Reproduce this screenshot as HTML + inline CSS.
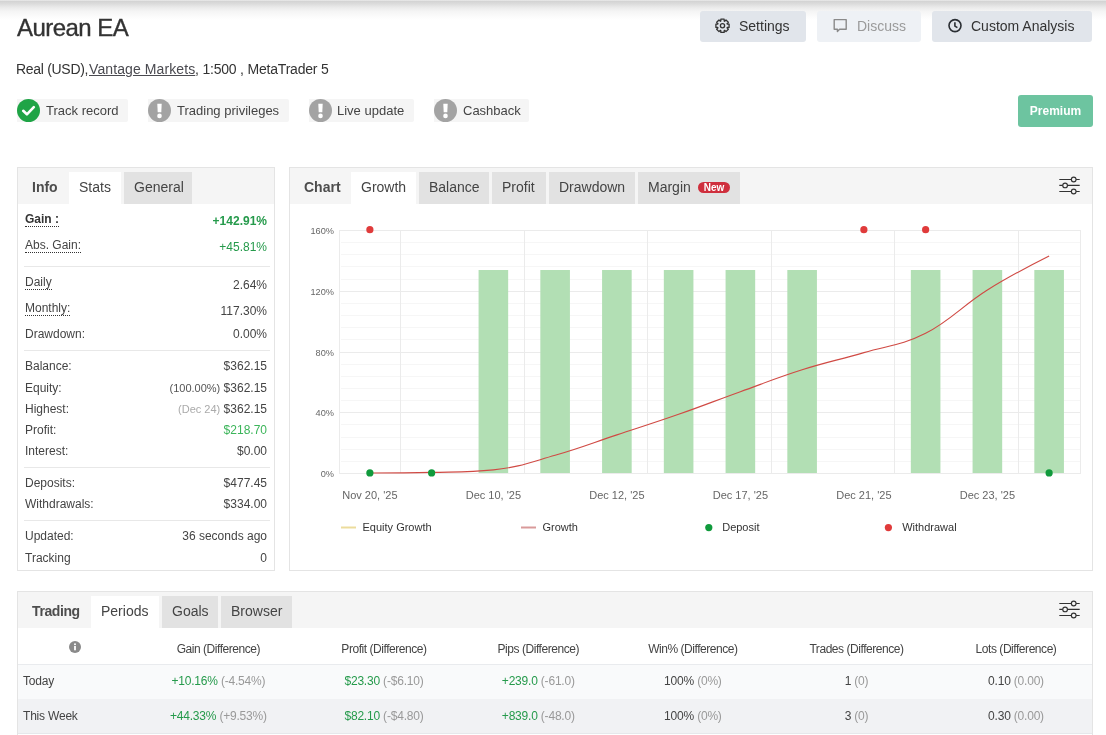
<!DOCTYPE html>
<html><head><meta charset="utf-8">
<style>
*{box-sizing:border-box;margin:0;padding:0}
html,body{width:1106px;height:735px;overflow:hidden;background:#fff}
body{font-family:"Liberation Sans",Arial,sans-serif;color:#333;position:relative}
.topshadow{position:absolute;left:0;top:0;width:1106px;height:20px;background:linear-gradient(#ededed 0px,#d4d4d4 1.5px,#dcdcdc 4px,#e9e9e9 7px,#f4f4f4 11px,#fbfbfb 16px,#fff 20px)}
.t{position:absolute;white-space:nowrap}
h1{position:absolute;left:17px;top:16px;-webkit-text-stroke:0.35px #333;font-size:24px;line-height:24px;font-weight:normal;color:#333;letter-spacing:-0.55px}
.btn{position:absolute;top:11px;height:31px;border-radius:3px;background:#e1e5eb}
.btxt{position:absolute;top:19px;font-size:14px;line-height:14px;color:#333;white-space:nowrap}
.sub{position:absolute;left:16px;top:62px;font-size:14px;line-height:14px;color:#333;letter-spacing:-0.16px;white-space:nowrap}
.sub u{text-decoration:underline;text-underline-offset:1px;color:#4a4a50}
.badge{position:absolute;top:99px;height:23px;background:#f5f5f5;border-radius:0 2px 2px 0}
.btx{position:absolute;top:104px;font-size:13px;line-height:13px;color:#444;white-space:nowrap}
.premium{position:absolute;left:1018px;top:95px;width:75px;height:32px;background:#6dc4a0;border-radius:3px;color:#fff;font-weight:bold;font-size:12px;text-align:center;line-height:32px}
.panel{position:absolute;border:1px solid #e4e4e4;background:#fff}
.tabbar{position:absolute;background:#f5f5f5}
.tab{position:absolute;height:32px;font-size:14px;line-height:14px;color:#444;white-space:nowrap}
.tab.w{background:#fff}
.tab.g{background:#e2e2e2}
.tab span{position:absolute;top:8px}
.lbl{position:absolute;font-size:12px;line-height:12px;color:#444;white-space:nowrap}
.val{position:absolute;font-size:12px;line-height:12px;color:#444;white-space:nowrap;text-align:right;right:839px}
.dt{border-bottom:1px dotted #333}
.dot{background-image:linear-gradient(90deg,#333 50%,transparent 50%);background-size:2px 1px;background-repeat:repeat-x;background-position:0 15px;padding-bottom:4px}
.sep{position:absolute;height:1px;background:#e8e8e8}
.green{color:#259a4b}
.th{position:absolute;font-size:12px;line-height:12px;color:#444;white-space:nowrap;letter-spacing:-0.45px}
.td{position:absolute;font-size:12px;line-height:12px;color:#444;white-space:nowrap;letter-spacing:-0.2px}
.td .gr{color:#999}
</style></head><body>
<div class="topshadow"></div>
<h1>Aurean EA</h1>

<!-- header buttons -->
<div class="btn" style="left:700px;width:106px"></div>
<svg style="position:absolute;left:714px;top:17px" width="17" height="18" viewBox="0 -0.3 17 18">
  <path d="M6.85 1.90 L10.15 1.90 L10.21 3.80 L10.61 3.97 L12.00 2.67 L14.33 5.00 L13.03 6.39 L13.20 6.79 L15.10 6.85 L15.10 10.15 L13.20 10.21 L13.03 10.61 L14.33 12.00 L12.00 14.33 L10.61 13.03 L10.21 13.20 L10.15 15.10 L6.85 15.10 L6.79 13.20 L6.39 13.03 L5.00 14.33 L2.67 12.00 L3.97 10.61 L3.80 10.21 L1.90 10.15 L1.90 6.85 L3.80 6.79 L3.97 6.39 L2.67 5.00 L5.00 2.67 L6.39 3.97 L6.79 3.80 Z" fill="none" stroke="#333" stroke-width="1.3" stroke-linejoin="round"/>
  <circle cx="8.5" cy="8.5" r="2.1" fill="none" stroke="#333" stroke-width="1.3"/>
</svg>
<div class="btxt" style="left:739px">Settings</div>

<div class="btn" style="left:817px;width:104px;background:#eef1f5"></div>
<svg style="position:absolute;left:832px;top:18px" width="16" height="15" viewBox="0 0 16 15">
  <path d="M2.2 1.6 H14.2 V11.2 H7.6 L5.4 13.4 V11.2 H2.2 Z" fill="none" stroke="#8a8a8a" stroke-width="1.4" stroke-linejoin="round"/>
</svg>
<div class="btxt" style="left:857px;color:#9a9a9a">Discuss</div>

<div class="btn" style="left:932px;width:160px"></div>
<svg style="position:absolute;left:947px;top:18px" width="16" height="16" viewBox="0 0 16 16">
  <circle cx="8" cy="7.6" r="6" fill="none" stroke="#2a2e33" stroke-width="1.6"/>
  <path d="M7.9 4.2 V8.1 L10.4 9.6" fill="none" stroke="#2a2e33" stroke-width="1.6" stroke-linejoin="round"/>
</svg>
<div class="btxt" style="left:971px">Custom Analysis</div>

<div class="sub" style="left:16px;letter-spacing:-0.3px">Real (USD),</div><div class="sub" style="left:89px;letter-spacing:0.1px"><u>Vantage Markets</u></div><div class="sub" style="left:195px;letter-spacing:-0.2px">, 1:500 , MetaTrader 5</div>

<!-- badges -->
<div class="badge" style="left:17px;width:111px"></div>
<svg style="position:absolute;left:17px;top:99px" width="23" height="23" viewBox="0 0 23 23">
  <circle cx="11.5" cy="11.5" r="11.5" fill="#1fa446"/>
  <path d="M6.2 11.8 L9.9 15.3 L16.8 8.2" fill="none" stroke="#fff" stroke-width="2.6" stroke-linecap="round" stroke-linejoin="round"/>
</svg>
<div class="btx" style="left:46px">Track record</div>

<div class="badge" style="left:148px;width:141px"></div>
<svg style="position:absolute;left:148px;top:99px" width="23" height="23" viewBox="0 0 23 23">
  <circle cx="11.5" cy="11.5" r="11.5" fill="#a3a3a3"/>
  <path d="M9.3 4.8 H13.7 L13.3 13.3 H9.7 Z" fill="#fff"/>
  <circle cx="11.5" cy="16.9" r="2.3" fill="#fff"/>
</svg>
<div class="btx" style="left:177px">Trading privileges</div>

<div class="badge" style="left:309px;width:105px"></div>
<svg style="position:absolute;left:309px;top:99px" width="23" height="23" viewBox="0 0 23 23">
  <circle cx="11.5" cy="11.5" r="11.5" fill="#a3a3a3"/>
  <path d="M9.3 4.8 H13.7 L13.3 13.3 H9.7 Z" fill="#fff"/>
  <circle cx="11.5" cy="16.9" r="2.3" fill="#fff"/>
</svg>
<div class="btx" style="left:337px">Live update</div>

<div class="badge" style="left:434px;width:95px"></div>
<svg style="position:absolute;left:434px;top:99px" width="23" height="23" viewBox="0 0 23 23">
  <circle cx="11.5" cy="11.5" r="11.5" fill="#a3a3a3"/>
  <path d="M9.3 4.8 H13.7 L13.3 13.3 H9.7 Z" fill="#fff"/>
  <circle cx="11.5" cy="16.9" r="2.3" fill="#fff"/>
</svg>
<div class="btx" style="left:463px">Cashback</div>

<div class="premium">Premium</div>

<!-- LEFT PANEL -->
<div class="panel" style="left:17px;top:167px;width:258px;height:404px"></div>
<div class="tabbar" style="left:18px;top:168px;width:256px;height:36px"></div>
<div class="tab" style="left:18px;top:168px;width:51px;height:36px"><span style="left:14px;top:12px;color:#4d4d4d;font-weight:bold">Info</span></div>
<div class="tab w" style="left:69px;top:172px;width:52px"><span style="left:10px">Stats</span></div>
<div class="tab g" style="left:124px;top:172px;width:68px"><span style="left:10px">General</span></div>

<div id="leftrows">
<div class="lbl" style="left:25px;top:213px;font-weight:bold;color:#333"><span class="dt">Gain :</span></div>
<div class="lbl" style="left:25px;top:239px"><span class="dt">Abs. Gain:</span></div>
<div class="lbl" style="left:25px;top:276px"><span class="dt">Daily</span></div>
<div class="lbl" style="left:25px;top:302px"><span class="dt">Monthly:</span></div>
<div class="lbl" style="left:25px;top:328px">Drawdown:</div>
<div class="lbl" style="left:25px;top:360px">Balance:</div>
<div class="lbl" style="left:25px;top:382px">Equity:</div>
<div class="lbl" style="left:25px;top:403px">Highest:</div>
<div class="lbl" style="left:25px;top:424px">Profit:</div>
<div class="lbl" style="left:25px;top:445px">Interest:</div>
<div class="lbl" style="left:25px;top:477px">Deposits:</div>
<div class="lbl" style="left:25px;top:498px">Withdrawals:</div>
<div class="lbl" style="left:25px;top:530px">Updated:</div>
<div class="lbl" style="left:25px;top:552px">Tracking</div>
<div class="val" style="top:215px"><b class="green">+142.91%</b></div>
<div class="val" style="top:241px"><span class="green">+45.81%</span></div>
<div class="val" style="top:279px">2.64%</div>
<div class="val" style="top:305px">117.30%</div>
<div class="val" style="top:328px">0.00%</div>
<div class="val" style="top:360px">$362.15</div>
<div class="val" style="top:382px"><small style="font-size:11px;color:#555">(100.00%)</small> $362.15</div>
<div class="val" style="top:403px"><small style="font-size:11px;color:#aaa">(Dec 24)</small> $362.15</div>
<div class="val" style="top:424px"><span style="color:#3cb55a">$218.70</span></div>
<div class="val" style="top:445px">$0.00</div>
<div class="val" style="top:477px">$477.45</div>
<div class="val" style="top:498px">$334.00</div>
<div class="val" style="top:530px">36 seconds ago</div>
<div class="val" style="top:552px">0</div>
<div class="sep" style="left:24px;top:266px;width:246px"></div>
<div class="sep" style="left:24px;top:350px;width:246px"></div>
<div class="sep" style="left:24px;top:467px;width:246px"></div>
<div class="sep" style="left:24px;top:520px;width:246px"></div>
</div><!--/leftrows-->

<!-- CHART PANEL -->
<div class="panel" style="left:289px;top:167px;width:804px;height:404px"></div>
<div class="tabbar" style="left:290px;top:168px;width:802px;height:36px"></div>
<div class="tab" style="left:290px;top:168px;width:61px;height:36px"><span style="left:14px;top:12px;color:#4d4d4d;font-weight:bold">Chart</span></div>
<div class="tab w" style="left:351px;top:172px;width:65px"><span style="left:10px">Growth</span></div>
<div class="tab g" style="left:419px;top:172px;width:70px"><span style="left:10px">Balance</span></div>
<div class="tab g" style="left:492px;top:172px;width:54px"><span style="left:10px">Profit</span></div>
<div class="tab g" style="left:549px;top:172px;width:86px"><span style="left:10px">Drawdown</span></div>
<div class="tab g" style="left:638px;top:172px;width:102px"><span style="left:10px">Margin</span>
  <span style="left:60px;top:10px;width:32px;height:11px;border-radius:6px;background:#cf2f3d;color:#fff;font-weight:bold;font-size:10px;line-height:11px;text-align:center">New</span></div>
<svg style="position:absolute;left:1058px;top:175px" width="24" height="20" viewBox="0 0 24 20">
  <g fill="none" stroke="#333" stroke-width="1.15">
    <path d="M1.3 4.5 H13.35 M18.05 4.5 H21.7"/>
    <circle cx="15.7" cy="4.5" r="2.35"/>
    <path d="M1.3 10.4 H4.75 M9.45 10.4 H21.7"/>
    <circle cx="7.1" cy="10.4" r="2.35"/>
    <path d="M1.3 16.5 H13.35 M18.05 16.5 H21.7"/>
    <circle cx="15.7" cy="16.5" r="2.35"/>
  </g>
</svg>

<div id="chart">
<svg style="position:absolute;left:290px;top:205px" width="802" height="365" viewBox="290 205 802 365" font-family="Liberation Sans, Arial, sans-serif">
<line x1="341" x2="1080" y1="461.5" y2="461.5" stroke="#f6f6f6" stroke-width="1"/>
<line x1="341" x2="1080" y1="449.5" y2="449.5" stroke="#f6f6f6" stroke-width="1"/>
<line x1="341" x2="1080" y1="437.5" y2="437.5" stroke="#f6f6f6" stroke-width="1"/>
<line x1="341" x2="1080" y1="424.5" y2="424.5" stroke="#f6f6f6" stroke-width="1"/>
<line x1="341" x2="1080" y1="400.5" y2="400.5" stroke="#f6f6f6" stroke-width="1"/>
<line x1="341" x2="1080" y1="388.5" y2="388.5" stroke="#f6f6f6" stroke-width="1"/>
<line x1="341" x2="1080" y1="376.5" y2="376.5" stroke="#f6f6f6" stroke-width="1"/>
<line x1="341" x2="1080" y1="364.5" y2="364.5" stroke="#f6f6f6" stroke-width="1"/>
<line x1="341" x2="1080" y1="339.5" y2="339.5" stroke="#f6f6f6" stroke-width="1"/>
<line x1="341" x2="1080" y1="327.5" y2="327.5" stroke="#f6f6f6" stroke-width="1"/>
<line x1="341" x2="1080" y1="315.5" y2="315.5" stroke="#f6f6f6" stroke-width="1"/>
<line x1="341" x2="1080" y1="303.5" y2="303.5" stroke="#f6f6f6" stroke-width="1"/>
<line x1="341" x2="1080" y1="279.5" y2="279.5" stroke="#f6f6f6" stroke-width="1"/>
<line x1="341" x2="1080" y1="266.5" y2="266.5" stroke="#f6f6f6" stroke-width="1"/>
<line x1="341" x2="1080" y1="254.5" y2="254.5" stroke="#f6f6f6" stroke-width="1"/>
<line x1="341" x2="1080" y1="242.5" y2="242.5" stroke="#f6f6f6" stroke-width="1"/>
<line x1="400.5" x2="400.5" y1="231" y2="473" stroke="#ebebeb" stroke-width="1"/>
<line x1="524.5" x2="524.5" y1="231" y2="473" stroke="#ebebeb" stroke-width="1"/>
<line x1="647.5" x2="647.5" y1="231" y2="473" stroke="#ebebeb" stroke-width="1"/>
<line x1="771.5" x2="771.5" y1="231" y2="473" stroke="#ebebeb" stroke-width="1"/>
<line x1="894.5" x2="894.5" y1="231" y2="473" stroke="#ebebeb" stroke-width="1"/>
<line x1="1018.5" x2="1018.5" y1="231" y2="473" stroke="#ebebeb" stroke-width="1"/>
<line x1="339.5" x2="339.5" y1="230" y2="474" stroke="#ebebeb"/>
<line x1="1080.5" x2="1080.5" y1="230" y2="474" stroke="#ebebeb"/>
<line x1="339" x2="1081" y1="230.5" y2="230.5" stroke="#ebebeb" stroke-width="1"/>
<line x1="339" x2="1081" y1="291.5" y2="291.5" stroke="#ebebeb" stroke-width="1"/>
<line x1="339" x2="1081" y1="352.5" y2="352.5" stroke="#ebebeb" stroke-width="1"/>
<line x1="339" x2="1081" y1="412.5" y2="412.5" stroke="#ebebeb" stroke-width="1"/>
<line x1="339" x2="1081" y1="473.5" y2="473.5" stroke="#ebebeb" stroke-width="1"/>
<rect x="478.57" y="270" width="29.6" height="203" fill="#b2dfb4"/>
<rect x="540.33" y="270" width="29.6" height="203" fill="#b2dfb4"/>
<rect x="602.08" y="270" width="29.6" height="203" fill="#b2dfb4"/>
<rect x="663.83" y="270" width="29.6" height="203" fill="#b2dfb4"/>
<rect x="725.58" y="270" width="29.6" height="203" fill="#b2dfb4"/>
<rect x="787.33" y="270" width="29.6" height="203" fill="#b2dfb4"/>
<rect x="910.83" y="270" width="29.6" height="203" fill="#b2dfb4"/>
<rect x="972.58" y="270" width="29.6" height="203" fill="#b2dfb4"/>
<rect x="1034.33" y="270" width="29.6" height="203" fill="#b2dfb4"/>
<text x="334" y="233.8" font-size="9.2" fill="#666" text-anchor="end">160%</text>
<text x="334" y="294.8" font-size="9.2" fill="#666" text-anchor="end">120%</text>
<text x="334" y="355.8" font-size="9.2" fill="#666" text-anchor="end">80%</text>
<text x="334" y="415.8" font-size="9.2" fill="#666" text-anchor="end">40%</text>
<text x="334" y="476.8" font-size="9.2" fill="#666" text-anchor="end">0%</text>
<path d="M369.88 473.00 C369.88 473.00 406.93 473.00 431.62 472.40 C456.32 471.80 468.68 472.40 493.38 469.90 C518.08 467.40 530.42 462.30 555.12 455.30 C579.83 448.30 592.17 443.10 616.88 434.90 C641.58 426.70 653.92 422.94 678.62 414.30 C703.33 405.66 715.67 400.60 740.38 391.70 C765.08 382.80 777.42 377.62 802.12 369.80 C826.83 361.98 839.17 359.90 863.88 352.60 C888.58 345.30 900.92 345.82 925.62 333.30 C950.33 320.78 962.67 305.46 987.38 290.00 C1012.08 274.54 1049.12 256.00 1049.12 256.00" fill="none" stroke="#d04a44" stroke-width="1.15"/>
<circle cx="369.88" cy="472.9" r="3.6" fill="#109a3c"/>
<circle cx="431.62" cy="472.9" r="3.6" fill="#109a3c"/>
<circle cx="1049.12" cy="472.9" r="3.6" fill="#109a3c"/>
<circle cx="369.88" cy="229.7" r="3.6" fill="#e03b3b"/>
<circle cx="863.88" cy="229.7" r="3.6" fill="#e03b3b"/>
<circle cx="925.62" cy="229.7" r="3.6" fill="#e03b3b"/>
<text x="369.88" y="499" font-size="11" fill="#666" text-anchor="middle">Nov 20, &#39;25</text>
<text x="493.38" y="499" font-size="11" fill="#666" text-anchor="middle">Dec 10, &#39;25</text>
<text x="616.88" y="499" font-size="11" fill="#666" text-anchor="middle">Dec 12, &#39;25</text>
<text x="740.38" y="499" font-size="11" fill="#666" text-anchor="middle">Dec 17, &#39;25</text>
<text x="863.88" y="499" font-size="11" fill="#666" text-anchor="middle">Dec 21, &#39;25</text>
<text x="987.38" y="499" font-size="11" fill="#666" text-anchor="middle">Dec 23, &#39;25</text>
<line x1="341" x2="356" y1="527.5" y2="527.5" stroke="#ecdc9c" stroke-width="2"/>
<text x="362.5" y="531" font-size="11" fill="#333">Equity Growth</text>
<line x1="521" x2="536" y1="527.5" y2="527.5" stroke="#d99a9a" stroke-width="2"/>
<text x="542.5" y="531" font-size="11" fill="#333">Growth</text>
<circle cx="708.8" cy="527.6" r="3.6" fill="#109a3c"/>
<text x="722.2" y="531" font-size="11" fill="#333">Deposit</text>
<circle cx="888.4" cy="527.6" r="3.6" fill="#e03b3b"/>
<text x="902.2" y="531" font-size="11" fill="#333">Withdrawal</text>
</svg>
</div><!--/chart-->

<!-- BOTTOM PANEL -->
<div class="panel" style="left:17px;top:591px;width:1076px;height:160px"></div>
<div class="tabbar" style="left:18px;top:592px;width:1074px;height:36px"></div>
<div class="tab" style="left:18px;top:592px;width:73px;height:36px"><span style="left:14px;top:12px;color:#4d4d4d;font-weight:bold;letter-spacing:-0.4px">Trading</span></div>
<div class="tab w" style="left:91px;top:596px;width:68px"><span style="left:10px">Periods</span></div>
<div class="tab g" style="left:162px;top:596px;width:56px"><span style="left:10px">Goals</span></div>
<div class="tab g" style="left:221px;top:596px;width:71px"><span style="left:10px">Browser</span></div>
<svg style="position:absolute;left:1058px;top:599px" width="24" height="20" viewBox="0 0 24 20">
  <g fill="none" stroke="#333" stroke-width="1.15">
    <path d="M1.3 4.5 H13.35 M18.05 4.5 H21.7"/>
    <circle cx="15.7" cy="4.5" r="2.35"/>
    <path d="M1.3 10.4 H4.75 M9.45 10.4 H21.7"/>
    <circle cx="7.1" cy="10.4" r="2.35"/>
    <path d="M1.3 16.5 H13.35 M18.05 16.5 H21.7"/>
    <circle cx="15.7" cy="16.5" r="2.35"/>
  </g>
</svg>

<div id="table">
<div style="position:absolute;left:18px;top:664px;width:1074px;height:1px;background:#e9ebee"></div>
<div style="position:absolute;left:18px;top:665px;width:1074px;height:34px;background:#f9fafb"></div>
<div style="position:absolute;left:18px;top:699px;width:1074px;height:34px;background:#f1f2f4"></div>
<div style="position:absolute;left:18px;top:733px;width:1074px;height:1px;background:#e6e8eb"></div>
<svg style="position:absolute;left:69px;top:641px" width="12" height="12" viewBox="0 0 12 12"><circle cx="6" cy="6" r="6" fill="#8a8a8a"/><rect x="5.1" y="5" width="1.8" height="4.3" fill="#fff"/><circle cx="6" cy="3.2" r="1" fill="#fff"/></svg>
<div class="th" style="left:118.4px;width:200px;text-align:center;top:643px">Gain (Difference)</div>
<div class="th" style="left:284.0px;width:200px;text-align:center;top:643px">Profit (Difference)</div>
<div class="th" style="left:438.3px;width:200px;text-align:center;top:643px">Pips (Difference)</div>
<div class="th" style="left:592.9px;width:200px;text-align:center;top:643px">Win% (Difference)</div>
<div class="th" style="left:756.5px;width:200px;text-align:center;top:643px">Trades (Difference)</div>
<div class="th" style="left:916.0px;width:200px;text-align:center;top:643px">Lots (Difference)</div>
<div class="td" style="left:23px;top:675px">Today</div>
<div class="td" style="left:118.4px;width:200px;text-align:center;top:675px"><span class="green">+10.16%</span> <span class="gr">(-4.54%)</span></div>
<div class="td" style="left:284.0px;width:200px;text-align:center;top:675px"><span class="green">$23.30</span> <span class="gr">(-$6.10)</span></div>
<div class="td" style="left:438.3px;width:200px;text-align:center;top:675px"><span class="green">+239.0</span> <span class="gr">(-61.0)</span></div>
<div class="td" style="left:592.9px;width:200px;text-align:center;top:675px">100% <span class="gr">(0%)</span></div>
<div class="td" style="left:756.5px;width:200px;text-align:center;top:675px">1 <span class="gr">(0)</span></div>
<div class="td" style="left:916.0px;width:200px;text-align:center;top:675px">0.10 <span class="gr">(0.00)</span></div>
<div class="td" style="left:23px;top:710px">This Week</div>
<div class="td" style="left:118.4px;width:200px;text-align:center;top:710px"><span class="green">+44.33%</span> <span class="gr">(+9.53%)</span></div>
<div class="td" style="left:284.0px;width:200px;text-align:center;top:710px"><span class="green">$82.10</span> <span class="gr">(-$4.80)</span></div>
<div class="td" style="left:438.3px;width:200px;text-align:center;top:710px"><span class="green">+839.0</span> <span class="gr">(-48.0)</span></div>
<div class="td" style="left:592.9px;width:200px;text-align:center;top:710px">100% <span class="gr">(0%)</span></div>
<div class="td" style="left:756.5px;width:200px;text-align:center;top:710px">3 <span class="gr">(0)</span></div>
<div class="td" style="left:916.0px;width:200px;text-align:center;top:710px">0.30 <span class="gr">(0.00)</span></div>
</div><!--/table-->
</body></html>
